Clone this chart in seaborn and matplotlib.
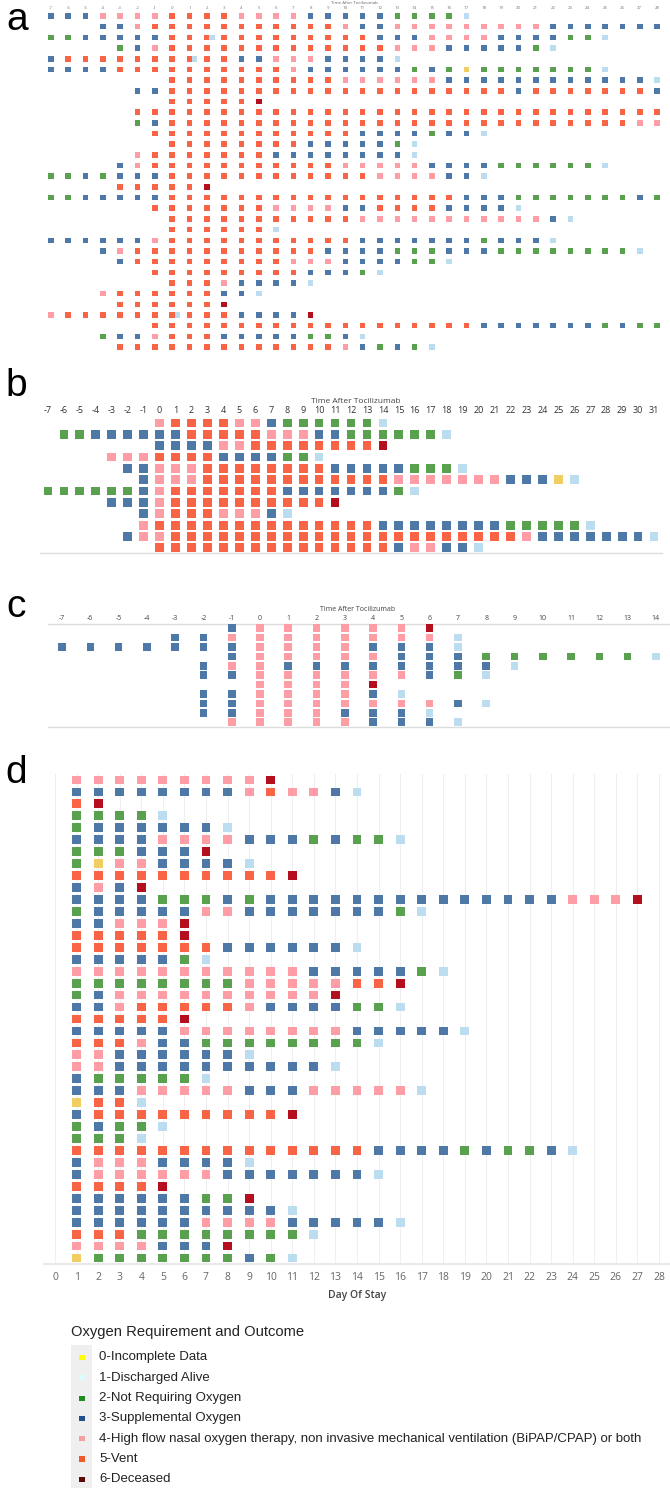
import matplotlib
matplotlib.use("Agg")
import matplotlib.pyplot as plt
from matplotlib.patches import Rectangle
from matplotlib import font_manager
import numpy as np
import pandas as pd
import seaborn as sns

sns.set_theme(style="white")
plt.rcParams['font.family'] = ['Open Sans', 'DejaVu Sans']

# ---------------- data ----------------
# status codes: 0 incomplete, 1 discharged, 2 no O2, 3 supplemental, 4 HFNC/NIV, 5 vent, 6 deceased
a_starts = [-7, -4, -7, -3, -7, -7, 0, -2, 0, -2, -2, -1, 0, -2, -3, -7,
            -3, -7, -1, 0, 0, -7, -4, -3, -1, 0, -4, -3, -7, -1, -4, -3]
a_codes = [
    "333 4444 5555 4444 33333 2222 1",
    "334 55555555555 4 33 444444444 3333333",
    "22 33333 555555555555 333 4444 3333 22 1",
    "234 5555555555555 444 33333 2 1",
    "3 5555555555 33 444 3333 1",
    "3333 5555555555 4 333333 2 3 2 0 2222222 1",
    "5555555555 444444 333333333333 1",
    "33 55555555555555555555 3 5555555 3",
    "555556",
    "5555555555 5555555555 5555555555 5",
    "23 5555555555 5555555555 5555555 44",
    "555555555555 3333 2 33 1",
    "55555555 33333 2 1",
    "4 5555555 33333333 1",
    "34 55555555555 44444 3333 222222 1",
    "2232333 555555555555 4444 33 1",
    "555556",
    "22 33333 55555555555555555 333 2222222 3 2",
    "5555555 4444 33 5555 3333 1",
    "55555555555 44444444444 3 1",
    "5555551",
    "333333 4 55555555555 3333333 2 333 1",
    "34 55555555555 3333 222 333 22222222 1",
    "3 555555555 444 3333 22 1",
    "555555555 333 2 1",
    "555 4 3333 1",
    "4 555555 33 1",
    "555555 6",
    "4 5555555555 3333 6",
    "5555555555555555555 3333333 2 3 22",
    "2334 555 33333 22 3 1",
    "5555555555555 4 3232 1",
]
# extra same-day discharge marks drawn beside a day in panel a
a_extra_rows = [3, 5, 29]
a_extra_days = [2.3, 1.3, 0.3]
a_extra_codes = [1, 1, 1]

b_starts = [0, -6, 0, -3, -2, -1, -7, -3, -1, -1, -2, 0]
b_codes = [
    "4 5555 44 3 222222 1",
    "22 333333 55555 444 33 222222 1",
    "3333 44 55555555 6",
    "444 5555 3333 22 1",
    "33 444 55555555 33333 222 1",
    "3 444 555555555555 4444444 333 0 1",
    "222222 3 4 5555555 3333333 2 1",
    "333 4 5555555555 6",
    "3 4 555 444 3 1",
    "4 55555555555555 33333333 22222 1",
    "3 44 5555555555555555555555 4 3333333 1",
    "555555555555555 3 44 33 1",
]

c_starts = [-1, -3, -7, -1, -2, -2, 0, -2, -2, -2, -1]
c_codes = [
    "3 444444 6",
    "33 44444444 1",
    "3333333 4444 333 1",
    "3 44444 333 222222 1",
    "3 44 33333333 1",
    "33 444444 3 2 1",
    "4444 6",
    "33 4444 3 1",
    "33 4444444 3 1",
    "33 444 333 1",
    "44444 333 1",
]

d_starts = [1] * 41
d_codes = [
    "444444444 6",
    "33333333 4 5 44 3 1",
    "56",
    "2222 1",
    "2 333333 1",
    "3333 4444 333 2 3 22 1",
    "222 333 6",
    "2 0 44 3333 1",
    "5555555555 6",
    "3 4 3 6",
    "3333 222 3 2 33333333333333 444 6",
    "2 33333 44 3333333 2 1",
    "33 444 6",
    "55555 6",
    "5555555 333333 1",
    "33333 2 1",
    "44444444444 33333 2 1",
    "22222222 44444 55 6",
    "2 3 4444444444 6",
    "33 4 55555 4 3333 22 1",
    "55555 6",
    "33333 44444444 33333 1",
    "555 4 33 22222222 1",
    "44 333333 1",
    "44 3333333333 1",
    "3 22222 1",
    "333 44444 333 44444 1",
    "0 55 1",
    "3 555555555 6",
    "2 3 22 1",
    "222 1",
    "55555555555555 3333 2 3 22 3 1",
    "3 444 3333 1",
    "3 444444 3333333 1",
    "5555 6",
    "333333 22 6",
    "3333333333 1",
    "333333 4444 33333 1",
    "555 22222222 1",
    "4444 333 6",
    "0 2222222 3 2 1",
]

a_days = list(range(-7, 29))
b_days = list(range(-7, 32))
c_days = list(range(-7, 15))
d_days = list(range(0, 29))

legend_codes = [0, 1, 2, 3, 4, 5, 6]
legend_labels = [
    "0-Incomplete Data",
    "1-Discharged Alive",
    "2-Not Requiring Oxygen",
    "3-Supplemental Oxygen",
    "4-High flow nasal oxygen therapy, non invasive mechanical ventilation (BiPAP/CPAP) or both",
    "5-Vent",
    "6-Deceased",
]

status_colors = {0: "#F1CE63", 1: "#BCDDF0", 2: "#59A14F", 3: "#4E79A7",
                 4: "#FF9DA7", 5: "#FA6446", 6: "#B50E1E"}
legend_colors = {0: "#FFFF00", 1: "#DDFDFD", 2: "#1E8C1E", 3: "#22508F",
                 4: "#F2A0A4", 5: "#F05A2A", 6: "#5A0808"}


def to_long(starts, codes):
    recs = []
    for r, (s, c) in enumerate(zip(starts, codes), start=1):
        for j, ch in enumerate(c.replace(" ", "")):
            recs.append((r, s + j, int(ch)))
    return pd.DataFrame(recs, columns=["row", "day", "status"])


W, H = 670, 1490
fig = plt.figure(figsize=(W / 100, H / 100), dpi=100)


def px_axes(x0, y0, x1, y1):
    return fig.add_axes([x0 / W, 1 - y1 / H, (x1 - x0) / W, (y1 - y0) / H])


def ftext(x, y, s, **kw):
    fig.text(x / W, 1 - y / H, s, **kw)


def panel(ax, df, days, nrows, size, top_ticks, tick_fs, tick_col):
    sns.scatterplot(data=df, x="day", y="row", hue="status", palette=status_colors,
                    marker="s", s=size, linewidth=0, legend=False, ax=ax, zorder=3)
    ax.set_xlim(days[0] - 0.5, days[-1] + 0.5)
    ax.set_ylim(nrows + 0.5, 0.5)
    ax.set_xlabel("")
    ax.set_ylabel("")
    ax.set_yticks([])
    ax.set_xticks(days)
    ax.set_xticklabels([str(d) for d in days])
    if top_ticks:
        ax.xaxis.tick_top()
    ax.tick_params(axis="x", length=0, pad=1.5, labelsize=tick_fs, colors=tick_col)
    for sp in ax.spines.values():
        sp.set_visible(False)
    ax.set_facecolor("none")


# ---------- panel a ----------
axa = px_axes(42.3, 10.7, 665.7, 352.4)
dfa = to_long(a_starts, a_codes)
panel(axa, dfa, a_days, len(a_codes), 16, True, 3.2, "#777777")
axa.tick_params(axis="x", pad=0.5)
dfa_x = pd.DataFrame({"row": a_extra_rows, "day": a_extra_days, "status": a_extra_codes})
sns.scatterplot(data=dfa_x, x="day", y="row", hue="status", palette=status_colors,
                marker="s", s=16, linewidth=0, legend=False, ax=axa, zorder=4)
axa.set_xlabel(""); axa.set_ylabel("")
ftext(354, 3.5, "Time After Tocilizumab", fontsize=3.2, color="#666666", ha="center", va="center")

# ---------- panel b ----------
axb = px_axes(40, 417.3, 662, 553.5)
dfb = to_long(b_starts, b_codes)
panel(axb, dfb, b_days, len(b_codes), 40, True, 6.5, "#333333")
axb.spines["bottom"].set_visible(True)
axb.spines["bottom"].set_color("#DDDDDD")
axb.spines["bottom"].set_linewidth(1.0)
ftext(356, 401.5, "Time After Tocilizumab", fontsize=6, color="#444444", ha="center", va="center")

# ---------- panel c ----------
axc = px_axes(47.9, 623.6, 670, 726.8)
dfc = to_long(c_starts, c_codes)
panel(axc, dfc, c_days, len(c_codes), 30, True, 5.0, "#444444")
for sp in ("top", "bottom"):
    axc.spines[sp].set_visible(True)
    axc.spines[sp].set_color("#DDDDDD")
    axc.spines[sp].set_linewidth(1.0)
ftext(358, 609.5, "Time After Tocilizumab", fontsize=5, color="#444444", ha="center", va="center")

# ---------- panel d ----------
axd = px_axes(44.2, 774, 669.8, 1264)
dfd = to_long(d_starts, d_codes)
panel(axd, dfd, d_days, len(d_codes), 40, False, 7.5, "#666666")
axd.tick_params(axis="x", pad=6)
axd.grid(axis="x", color="#EFEFEF", linewidth=0.8, zorder=0)
axd.set_axisbelow(True)
axd.spines["bottom"].set_visible(True)
axd.spines["bottom"].set_color("#E6E6E6")
axd.set_xlabel("Day Of Stay", fontsize=7.5, color="#444444", fontweight="semibold", labelpad=5)

# ---------- panel letters ----------
for lx, ly, lt in [(17, 20, "a"), (16, 386, "b"), (16, 607, "c"), (16, 773, "d")]:
    ftext(lx, ly, lt, fontsize=28, family=["Liberation Sans", "DejaVu Sans"],
          ha="center", va="center", color="black")

# ---------- legend ----------
names = {f.name for f in font_manager.fontManager.ttflist}
if "Liberation Sans Narrow" in names:
    item_fam, item_fs = ["Liberation Sans Narrow", "DejaVu Sans"], 11.6
else:
    item_fam, item_fs = ["Liberation Sans", "DejaVu Sans"], 9.5

axl = px_axes(0, 1310, 670, 1490)
axl.axis("off")
axl.add_patch(Rectangle((71, 1345), 21, 143, facecolor="#EFEFEF", edgecolor="none", zorder=0))
ly = [1357.5, 1377.8, 1398.1, 1418.4, 1438.7, 1459.0, 1479.3]
dfl = pd.DataFrame({"x": [82] * len(legend_codes), "y": ly, "status": legend_codes})
sns.scatterplot(data=dfl, x="x", y="y", hue="status", palette=legend_colors, marker="s",
                s=14, linewidth=0, legend=False, ax=axl, zorder=3)
axl.set_xlim(0, 670)
axl.set_ylim(1490, 1310)
axl.text(71, 1332, "Oxygen Requirement and Outcome", fontsize=10.6,
         family=["Liberation Sans", "DejaVu Sans"], ha="left", va="center", color="#222222")
for yy, lab in zip(ly, legend_labels):
    axl.text(99, yy, lab, fontsize=item_fs, family=item_fam, ha="left", va="center", color="#222222")

fig.savefig("out.png", dpi=100)
